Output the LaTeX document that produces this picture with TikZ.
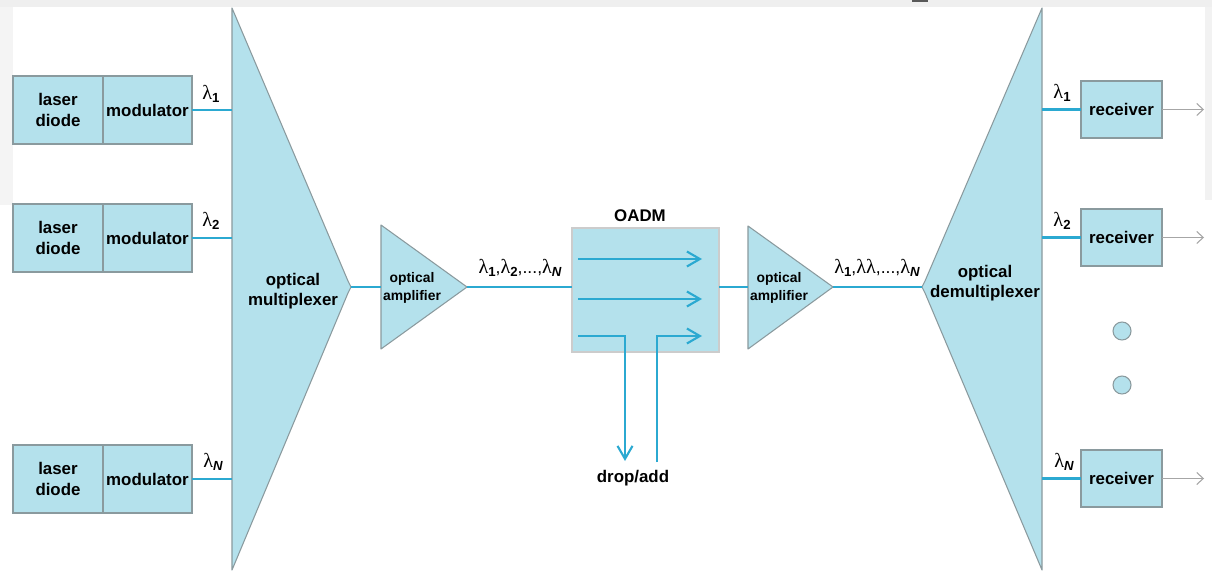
\documentclass[tikz,border=0pt]{standalone}
\usepackage{fontspec}
\setmainfont{Liberation Sans}
\newfontfamily\seriffont{Liberation Serif}
\usetikzlibrary{arrows.meta}
\definecolor{fillb}{HTML}{B4E1EC}
\definecolor{cyanl}{HTML}{2BA9D1}
\definecolor{edgeg}{HTML}{8A9A9E}
\definecolor{bgg}{HTML}{EFEFEF}
\newcommand\mylam[1]{{\seriffont\fontsize{11.5}{12}\selectfont λ}\raisebox{-0.4ex}{\fontsize{7.5}{8}\selectfont\bfseries #1}}
\newcommand\mylamx{{\seriffont\fontsize{11.5}{12}\selectfont λ}}
\begin{document}
\begin{tikzpicture}[x=0.02cm,y=-0.02cm,
  blk/.style={draw=edgeg, line width=0.8pt, fill=fillb, inner sep=1pt, outer sep=0pt, align=center,
              font=\fontsize{9.6}{11.5}\selectfont\bfseries},
  shp/.style={draw=edgeg, line width=0.6pt, fill=fillb, line join=round},
  fib/.style={draw=cyanl, line width=1.2pt},
  fibar/.style={draw=cyanl, line width=1.2pt, -{Straight Barb[length=2.6mm,width=3mm,line width=1.2pt]}},
  outar/.style={draw=gray!70, line width=0.6pt, -{Straight Barb[length=1.3mm,width=2.4mm]}},
  txt/.style={align=center, inner sep=0pt, font=\fontsize{9.6}{11.5}\selectfont\bfseries},
  stxt/.style={align=center, inner sep=0pt, font=\fontsize{7.9}{10}\selectfont\bfseries},
  lab/.style={inner sep=0pt},
  dot/.style={circle, draw=edgeg, line width=0.6pt, fill=fillb, minimum size=0.36cm, inner sep=0pt}]
\useasboundingbox (0,0) rectangle (1212,571);
% background
\fill[white] (0,0) rectangle (1212,571);
\fill[bgg] (0,0) rectangle (1212,7);
\fill[bgg!70] (0,7) rectangle (13,205);
\fill[bgg!80] (1205,7) rectangle (1212,200);
\fill[gray!70!black] (912,0) rectangle (928,2);

% transmitters
\node[blk, minimum width=1.8cm, minimum height=1.36cm, anchor=north west] (ld1) at (13,76) {laser\\diode};
\node[blk, minimum width=1.78cm, minimum height=1.36cm, anchor=west] (mod1) at (ld1.east) {modulator};
\node[blk, minimum width=1.8cm, minimum height=1.36cm, anchor=north west] (ld2) at (13,204) {laser\\diode};
\node[blk, minimum width=1.78cm, minimum height=1.36cm, anchor=west] (mod2) at (ld2.east) {modulator};
\node[blk, minimum width=1.8cm, minimum height=1.36cm, anchor=north west] (ld3) at (13,445) {laser\\diode};
\node[blk, minimum width=1.78cm, minimum height=1.36cm, anchor=west] (mod3) at (ld3.east) {modulator};

% multiplexer
\draw[shp] (232,8) -- (348,281) -- (351,287) -- (348,293) -- (232,570) -- cycle;
\node[txt] (muxt) at (293,291) {optical\\multiplexer};
\coordinate (mux) at (232,287);
\coordinate (muxo) at (351,287);

\draw[fib] (mod1.east) -- (mod1.east -| mux);
\draw[fib] (mod2.east) -- (mod2.east -| mux);
\draw[fib] (mod3.east) -- (mod3.east -| mux);
\node[lab] (l1) at (211,94) {\mylam{1}};
\node[lab] (l2) at (211,221) {\mylam{2}};
\node[lab] (l3) at (213,462) {\mylam{\itshape N}};

% amplifier 1
\draw[shp] (381,225) -- (467,287) -- (381,349) -- cycle;
\coordinate (a1i) at (381,287);
\coordinate (a1o) at (467,287);
\node[stxt] (a1t) at (412,288) {optical\\amplifier};
\draw[fib] (muxo) -- (a1i);

% OADM
\node[draw=gray!40, line width=0.6pt, fill=fillb, minimum width=2.94cm, minimum height=2.48cm, anchor=north west, inner sep=0pt, outer sep=0pt] (oadm) at (572,228) {};
\node[txt] (oadmt) at (640,216) {OADM};
\coordinate (oi) at (572,287);
\coordinate (oo) at (719,287);
\draw[fib] (a1o) -- (oi);
\node[lab] (lall) at (520,268) {\mylam{1},\mylam{2},...,\mylam{\itshape N}};
\draw[fibar] (578,259) -- (702,259);
\draw[fibar] (578,299) -- (702,299);
\coordinate (dropend) at (625,461);
\coordinate (addstart) at (657,462);
\draw[fibar] (578,336) -- (625,336) -- (dropend);
\draw[fibar] (addstart) -- (657,336) -- (702,336);
\node[txt] (da) at (633,478) {drop/add};

% amplifier 2
\draw[shp] (748,226) -- (833,287) -- (748,349) -- cycle;
\coordinate (a2i) at (748,287);
\coordinate (a2o) at (833,287);
\node[stxt] (a2t) at (779,288) {optical\\amplifier};
\draw[fib] (oo) -- (a2i);

% demultiplexer
\draw[shp] (1042,8) -- (1042,570) -- (925,293) -- (922,287) -- (925,281) -- cycle;
\coordinate (dmi) at (922,287);
\node[txt] (dmt) at (985,283) {optical\\demultiplexer};
\draw[fib] (a2o) -- (dmi);
\node[lab] (lall2) at (877,268) {\mylam{1},\mylamx\mylamx,...,\mylam{\itshape N}};
\coordinate (dm) at (1042,287);

% receivers
\node[blk, minimum width=1.62cm, minimum height=1.14cm, anchor=north west] (r1) at (1081,81) {receiver};
\node[blk, minimum width=1.62cm, minimum height=1.14cm, anchor=north west] (r2) at (1081,209) {receiver};
\node[blk, minimum width=1.62cm, minimum height=1.14cm, anchor=north west] (r3) at (1081,450) {receiver};
\draw[fib] (r1.west -| dm) -- (r1.west);
\draw[fib] (r2.west -| dm) -- (r2.west);
\draw[fib] (r3.west -| dm) -- (r3.west);
\node[lab] (rl1) at (1062,93) {\mylam{1}};
\node[lab] (rl2) at (1062,221) {\mylam{2}};
\node[lab] (rl3) at (1064,462) {\mylam{\itshape N}};
\coordinate (ox) at (1204,287);
\draw[outar] (r1.east) -- (r1.east -| ox);
\draw[outar] (r2.east) -- (r2.east -| ox);
\draw[outar] (r3.east) -- (r3.east -| ox);

% dots
\node[dot] (d1) at (1122,331) {};
\node[dot] (d2) at (1122,385) {};
\end{tikzpicture}
\end{document}
